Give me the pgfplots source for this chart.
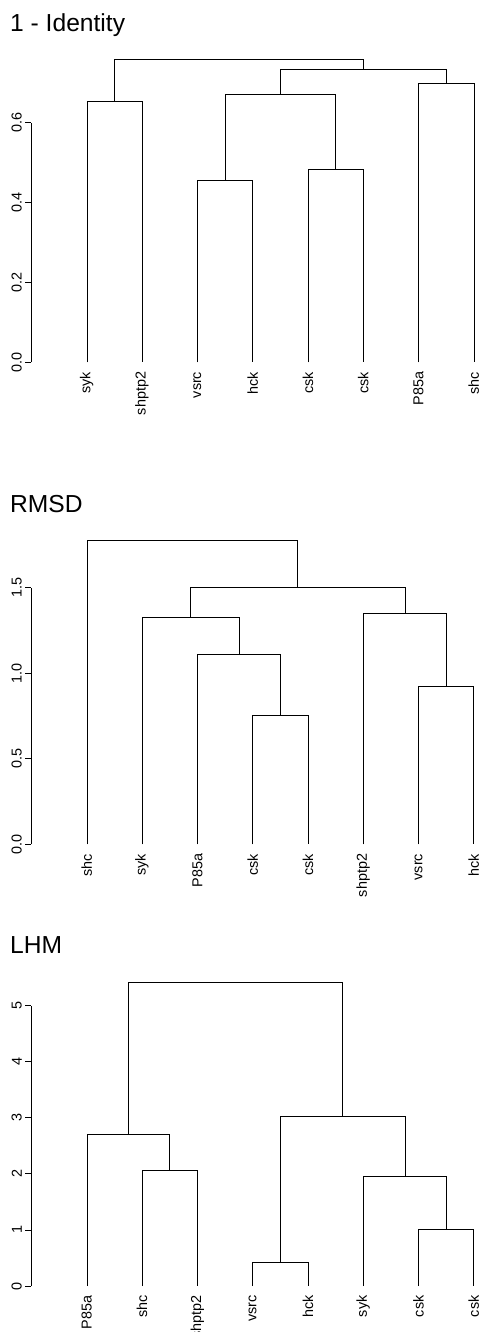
\documentclass[border=0pt]{standalone}
\usepackage{pgfplots}
\pgfplotsset{compat=1.18}
\usepackage{fontspec}
\setmainfont{Liberation Sans}
\newcommand{\smallf}{\fontsize{14.45}{16}\selectfont}
\newcommand{\titlef}{\fontsize{24.7}{28}\selectfont}
\pgfplotsset{
  dendro/.style={
    scale only axis, anchor=south west,
    xmin=0, xmax=8.2, width=453.5bp,
    ymin=0, clip=false,
    axis lines*=left, axis line style={draw=none},
    xtick={1,2,3,4,5,6,7,8},
    major x tick style={draw=none},
    major y tick style={black, line width=0.8bp},
    tick align=outside, major tick length=6bp,
    xticklabel style={rotate=90, anchor=east, font=\smallf},
    yticklabel style={rotate=90, anchor=south, font=\smallf},
    /pgf/number format/assume math mode=true,
    cycle list={{black, solid, mark=none, line width=0.8bp}},
  }
}
\begin{document}
\begin{tikzpicture}
\useasboundingbox (0,0) rectangle (486bp,1332bp);
% ---------------- 1 - Identity
\node[anchor=base west, inner sep=0pt, font=\titlef] at (10bp,1300.3bp) {1 - Identity};
\begin{axis}[dendro, at={(31.4bp,969.7bp)}, height=319.4bp, ymax=0.8,
  ytick={0,0.2,0.4,0.6}, yticklabels={0.0,0.2,0.4,0.6},
  xticklabels={syk,shptp2,vsrc,hck,csk,csk,P85a,shc}]
\addplot coordinates {(1,0) (1,0.654) (2,0.654) (2,0)};
\addplot coordinates {(3,0) (3,0.456) (4,0.456) (4,0)};
\addplot coordinates {(5,0) (5,0.483) (6,0.483) (6,0)};
\addplot coordinates {(3.5,0.456) (3.5,0.671) (5.5,0.671) (5.5,0.483)};
\addplot coordinates {(7,0) (7,0.698) (8,0.698) (8,0)};
\addplot coordinates {(4.5,0.671) (4.5,0.734) (7.5,0.734) (7.5,0.698)};
\addplot coordinates {(1.5,0.654) (1.5,0.760) (6,0.760) (6,0.734)};
\draw[black, line width=0.8bp] (axis cs:0,0) -- (axis cs:0,0.6);
\end{axis}
% ---------------- RMSD
\node[anchor=base west, inner sep=0pt, font=\titlef] at (10bp,819.3bp) {RMSD};
\begin{axis}[dendro, at={(31.4bp,487.7bp)}, height=308.0bp, ymax=1.8,
  ytick={0,0.5,1,1.5}, yticklabels={0.0,0.5,1.0,1.5},
  xticklabels={shc,syk,P85a,csk,csk,shptp2,vsrc,hck}]
\addplot coordinates {(4,0) (4,0.756) (5,0.756) (5,0)};
\addplot coordinates {(3,0) (3,1.109) (4.5,1.109) (4.5,0.756)};
\addplot coordinates {(2,0) (2,1.325) (3.75,1.325) (3.75,1.109)};
\addplot coordinates {(7,0) (7,0.925) (8,0.925) (8,0)};
\addplot coordinates {(6,0) (6,1.350) (7.5,1.350) (7.5,0.925)};
\addplot coordinates {(2.875,1.325) (2.875,1.502) (6.75,1.502) (6.75,1.350)};
\addplot coordinates {(1,0) (1,1.777) (4.8125,1.777) (4.8125,1.502)};
\draw[black, line width=0.8bp] (axis cs:0,0) -- (axis cs:0,1.5);
\end{axis}
% ---------------- LHM
\node[anchor=base west, inner sep=0pt, font=\titlef] at (10bp,378bp) {LHM};
\begin{axis}[dendro, at={(31.4bp,46bp)}, height=308.4bp, ymax=5.5,
  ytick={0,1,2,3,4,5}, yticklabels={0,1,2,3,4,5},
  xticklabels={P85a,shc,shptp2,vsrc,hck,syk,csk,csk}]
\addplot coordinates {(2,0) (2,2.063) (3,2.063) (3,0)};
\addplot coordinates {(1,0) (1,2.711) (2.5,2.711) (2.5,2.063)};
\addplot coordinates {(4,0) (4,0.416) (5,0.416) (5,0)};
\addplot coordinates {(7,0) (7,1.017) (8,1.017) (8,0)};
\addplot coordinates {(6,0) (6,1.956) (7.5,1.956) (7.5,1.017)};
\addplot coordinates {(4.5,0.416) (4.5,3.032) (6.75,3.032) (6.75,1.956)};
\addplot coordinates {(1.75,2.711) (1.75,5.41) (5.625,5.41) (5.625,3.032)};
\draw[black, line width=0.8bp] (axis cs:0,0) -- (axis cs:0,5);
\end{axis}
\end{tikzpicture}
\end{document}
